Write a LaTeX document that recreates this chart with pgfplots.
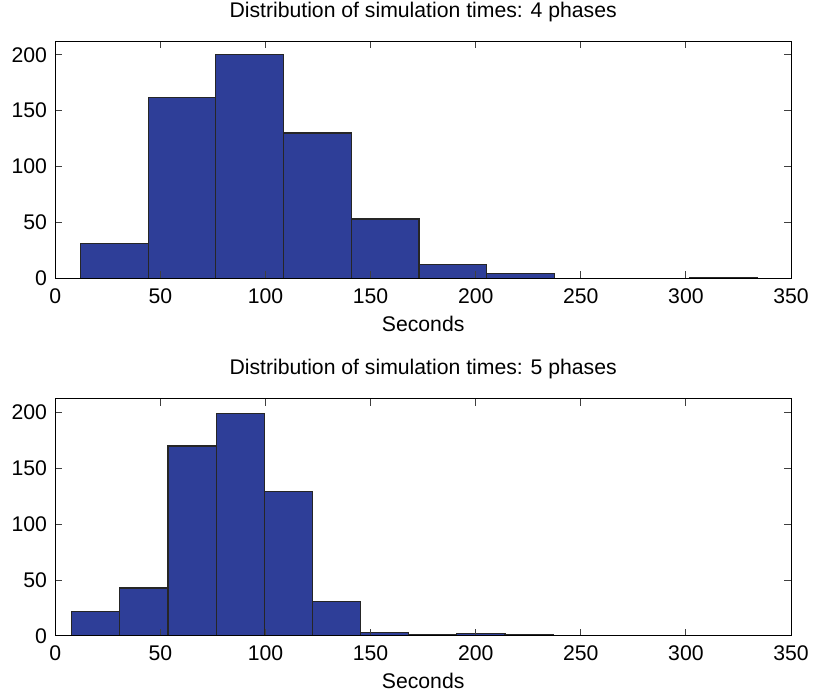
\documentclass[border=0pt]{standalone}
\usepackage{pgfplots}
\pgfplotsset{compat=1.18}
\usepackage{fontspec}
\setmainfont{Liberation Sans}

\definecolor{histblue}{RGB}{46,62,152}

\pgfplotsset{
  histaxis/.style={
    scale only axis,
    width=735.7pt, height=237pt,
    xmin=0, xmax=350, ymin=0, ymax=212,
    xtick={0,50,...,350}, ytick={0,50,...,200},
    xtick pos=both, ytick pos=both,
    xticklabel pos=lower, yticklabel pos=left,
    tick align=inside,
    major tick length=7pt,
    tick style={black!75, line width=1pt},
    axis line style={black, line width=1pt},
    axis on top,
    /pgf/number format/assume math mode=true,
    xticklabel style={anchor=base, yshift=-25pt},
    yticklabel style={xshift=-1pt},
    xlabel={Seconds},
    xlabel style={at={(axis description cs:0.5,0)}, anchor=base, yshift=-53pt},
    title style={at={(axis description cs:0.5,1)}, anchor=base, yshift=18pt},
  },
  histbars/.style={ybar interval, fill=histblue, draw=black!85, line width=1.2pt},
}

\begin{document}
\fontsize{21.2}{25}\selectfont
\begin{tikzpicture}[x=1pt, y=1pt]
\useasboundingbox (0,0) rectangle (814,692);

% 4 phases
\begin{axis}[histaxis, at={(55.3pt,413.7pt)}, anchor=south west,
  title={Distribution of simulation times: 4 phases}]
\addplot[histbars] coordinates {
  (12.0,31) (44.2,162) (76.4,200) (108.6,130) (140.8,53) (173.0,12)
  (205.2,4) (237.4,0) (269.6,0) (301.8,1) (334.0,0)
};
\end{axis}

% 5 phases
\begin{axis}[histaxis, at={(55.3pt,56pt)}, anchor=south west,
  title={Distribution of simulation times: 5 phases}]
\addplot[histbars] coordinates {
  (7.8,22) (30.7,43) (53.6,170) (76.5,199) (99.4,129) (122.3,31)
  (145.2,3) (168.1,1) (191.0,2) (213.9,1) (236.8,0)
};
\end{axis}
\end{tikzpicture}
\end{document}
